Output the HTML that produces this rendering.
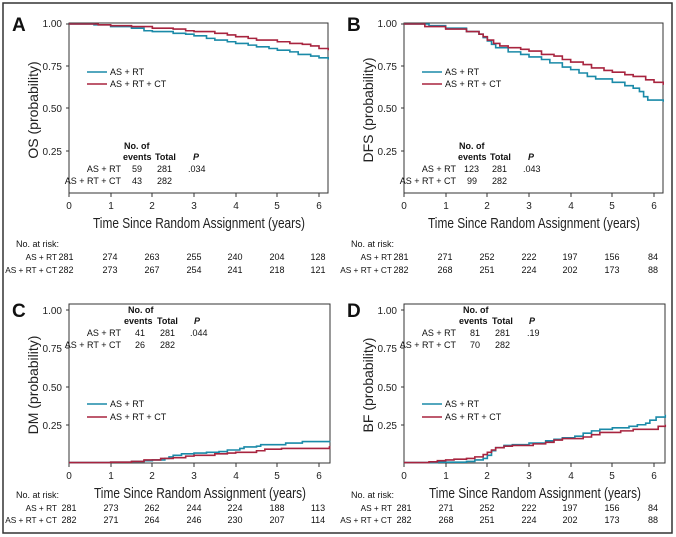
<!DOCTYPE html>
<html><head><meta charset="utf-8"><style>
body{margin:0;background:#fff}
svg{display:block;font-family:"Liberation Sans",sans-serif}
.t{font-size:10px;fill:#222}
.s{font-size:9px;fill:#111}
.r{font-size:8.3px}
.b{font-weight:bold}
.xl{font-size:15px;fill:#222}
.yl{font-size:14px;fill:#222}
.L{font-size:19px;font-weight:bold;fill:#111}
.c1{fill:none;stroke:#1a8aa8;stroke-width:1.6;vector-effect:non-scaling-stroke}
.c2{fill:none;stroke:#a8243f;stroke-width:1.6;vector-effect:non-scaling-stroke}
</style></head><body>
<svg width="676" height="537" viewBox="0 0 676 537">
<rect x="3" y="3" width="669" height="530" fill="none" stroke="#333" stroke-width="1.5"/>

<g>
<text class="L" x="12" y="31">A</text>
<rect x="69" y="23" width="259" height="170" fill="none" stroke="#333" stroke-width="1"/>
<g class="t" text-anchor="end"><text x="62" y="27">1.00</text><text x="62" y="70">0.75</text><text x="62" y="112">0.50</text><text x="62" y="155">0.25</text></g>
<g stroke="#333"><line x1="66" x2="69" y1="24" y2="24"/><line x1="66" x2="69" y1="66" y2="66"/><line x1="66" x2="69" y1="108" y2="108"/><line x1="66" x2="69" y1="151" y2="151"/>
<line x1="69" x2="69" y1="193" y2="197"/><line x1="111" x2="111" y1="193" y2="197"/><line x1="152" x2="152" y1="193" y2="197"/><line x1="194" x2="194" y1="193" y2="197"/><line x1="236" x2="236" y1="193" y2="197"/><line x1="277" x2="277" y1="193" y2="197"/><line x1="319" x2="319" y1="193" y2="197"/></g>
<g class="t" text-anchor="middle"><text x="69" y="209">0</text><text x="111" y="209">1</text><text x="152" y="209">2</text><text x="194" y="209">3</text><text x="236" y="209">4</text><text x="277" y="209">5</text><text x="319" y="209">6</text></g>
<text class="xl" x="93" y="228" textLength="212" lengthAdjust="spacingAndGlyphs">Time Since Random Assignment (years)</text>
<text class="yl" transform="translate(38,110) rotate(-90)" text-anchor="middle">OS (probability)</text>
<g transform="translate(69,193) scale(41.67,-169)">
<path class="c1" d="M0 1H0.6V0.995H1V0.985H1.5V0.975H1.8V0.96H2V0.955H2.5V0.945H2.8V0.94H3V0.93H3.3V0.915H3.5V0.905H3.8V0.895H4V0.885H4.3V0.875H4.5V0.865H4.8V0.855H5V0.845H5.3V0.835H5.5V0.82H5.8V0.81H6V0.80H6.22V0.79"/>
<path class="c2" d="M0 1H0.7V0.995H1V0.99H1.5V0.985H2V0.975H2.5V0.97H2.8V0.96H3V0.955H3.5V0.945H3.8V0.935H4V0.925H4.3V0.915H4.5V0.905H5V0.895H5.3V0.885H5.6V0.88H5.8V0.87H6V0.855H6.22V0.845"/>
</g>
<line x1="87" x2="107" y1="72" y2="72" class="c1"/><line x1="87" x2="107" y1="84" y2="84" class="c2"/>
<text class="s" x="110" y="75">AS + RT</text><text class="s" x="110" y="87">AS + RT + CT</text>
<g class="s"><text class="b" x="124" y="149">No. of</text><text class="b" x="123" y="160">events</text><text class="b" x="155" y="160">Total</text><text class="b" x="193" y="160" font-style="italic">P</text>
<text x="121" y="172" text-anchor="end">AS + RT</text><text x="132" y="172">59</text><text x="157" y="172">281</text><text x="188" y="172">.034</text>
<text x="121" y="184" text-anchor="end">AS + RT + CT</text><text x="132" y="184">43</text><text x="157" y="184">282</text></g>
<g class="s" text-anchor="middle"><text x="16" y="247" text-anchor="start">No. at risk:</text>
<text class="r" x="57" y="260" text-anchor="end">AS + RT</text><text x="66" y="260">281</text><text x="110" y="260">274</text><text x="152" y="260">263</text><text x="194" y="260">255</text><text x="235" y="260">240</text><text x="277" y="260">204</text><text x="318" y="260">128</text>
<text class="r" x="57" y="273" text-anchor="end">AS + RT + CT</text><text x="66" y="273">282</text><text x="110" y="273">273</text><text x="152" y="273">267</text><text x="194" y="273">254</text><text x="235" y="273">241</text><text x="277" y="273">218</text><text x="318" y="273">121</text></g>
</g>

<g transform="translate(335,0)">
<text class="L" x="12" y="31">B</text>
<rect x="69" y="23" width="259" height="170" fill="none" stroke="#333" stroke-width="1"/>
<g class="t" text-anchor="end"><text x="62" y="27">1.00</text><text x="62" y="70">0.75</text><text x="62" y="112">0.50</text><text x="62" y="155">0.25</text></g>
<g stroke="#333"><line x1="66" x2="69" y1="24" y2="24"/><line x1="66" x2="69" y1="66" y2="66"/><line x1="66" x2="69" y1="108" y2="108"/><line x1="66" x2="69" y1="151" y2="151"/>
<line x1="69" x2="69" y1="193" y2="197"/><line x1="111" x2="111" y1="193" y2="197"/><line x1="152" x2="152" y1="193" y2="197"/><line x1="194" x2="194" y1="193" y2="197"/><line x1="236" x2="236" y1="193" y2="197"/><line x1="277" x2="277" y1="193" y2="197"/><line x1="319" x2="319" y1="193" y2="197"/></g>
<g class="t" text-anchor="middle"><text x="69" y="209">0</text><text x="111" y="209">1</text><text x="152" y="209">2</text><text x="194" y="209">3</text><text x="236" y="209">4</text><text x="277" y="209">5</text><text x="319" y="209">6</text></g>
<text class="xl" x="93" y="228" textLength="212" lengthAdjust="spacingAndGlyphs">Time Since Random Assignment (years)</text>
<text class="yl" transform="translate(38,110) rotate(-90)" text-anchor="middle">DFS (probability)</text>
<g transform="translate(69,193) scale(41.67,-169)">
<path class="c1" d="M0 1H0.6V0.99H1V0.975H1.5V0.955H1.8V0.94H1.9V0.92H2V0.9H2.1V0.88H2.2V0.86H2.5V0.835H2.8V0.82H3V0.805H3.3V0.79H3.5V0.77H3.8V0.745H4V0.73H4.2V0.71H4.4V0.69H4.6V0.675H5V0.655H5.3V0.635H5.5V0.62H5.65V0.6H5.75V0.57H5.85V0.55H6.22V0.54"/>
<path class="c2" d="M0 1H0.5V0.985H1V0.97H1.5V0.955H1.8V0.94H1.9V0.925H2V0.905H2.15V0.885H2.3V0.87H2.5V0.86H2.8V0.85H3V0.84H3.3V0.82H3.6V0.81H3.8V0.79H4V0.775H4.3V0.76H4.5V0.74H4.8V0.725H5V0.715H5.3V0.70H5.5V0.69H5.8V0.67H6V0.655H6.22V0.64"/>
</g>
<line x1="87" x2="107" y1="72" y2="72" class="c1"/><line x1="87" x2="107" y1="84" y2="84" class="c2"/>
<text class="s" x="110" y="75">AS + RT</text><text class="s" x="110" y="87">AS + RT + CT</text>
<g class="s"><text class="b" x="124" y="149">No. of</text><text class="b" x="123" y="160">events</text><text class="b" x="155" y="160">Total</text><text class="b" x="193" y="160" font-style="italic">P</text>
<text x="121" y="172" text-anchor="end">AS + RT</text><text x="129" y="172">123</text><text x="157" y="172">281</text><text x="188" y="172">.043</text>
<text x="121" y="184" text-anchor="end">AS + RT + CT</text><text x="132" y="184">99</text><text x="157" y="184">282</text></g>
<g class="s" text-anchor="middle"><text x="16" y="247" text-anchor="start">No. at risk:</text>
<text class="r" x="57" y="260" text-anchor="end">AS + RT</text><text x="66" y="260">281</text><text x="110" y="260">271</text><text x="152" y="260">252</text><text x="194" y="260">222</text><text x="235" y="260">197</text><text x="277" y="260">156</text><text x="318" y="260">84</text>
<text class="r" x="57" y="273" text-anchor="end">AS + RT + CT</text><text x="66" y="273">282</text><text x="110" y="273">268</text><text x="152" y="273">251</text><text x="194" y="273">224</text><text x="235" y="273">202</text><text x="277" y="273">173</text><text x="318" y="273">88</text></g>
</g>

<g>
<text class="L" x="12" y="317">C</text>
<rect x="69" y="304" width="261" height="159" fill="none" stroke="#333" stroke-width="1"/>
<g class="t" text-anchor="end"><text x="62" y="314">1.00</text><text x="62" y="352">0.75</text><text x="62" y="391">0.50</text><text x="62" y="429">0.25</text></g>
<g stroke="#333"><line x1="66" x2="69" y1="310" y2="310"/><line x1="66" x2="69" y1="348" y2="348"/><line x1="66" x2="69" y1="387" y2="387"/><line x1="66" x2="69" y1="425" y2="425"/>
<line x1="69" x2="69" y1="463" y2="467"/><line x1="111" x2="111" y1="463" y2="467"/><line x1="152" x2="152" y1="463" y2="467"/><line x1="194" x2="194" y1="463" y2="467"/><line x1="236" x2="236" y1="463" y2="467"/><line x1="277" x2="277" y1="463" y2="467"/><line x1="319" x2="319" y1="463" y2="467"/></g>
<g class="t" text-anchor="middle"><text x="69" y="479">0</text><text x="111" y="479">1</text><text x="152" y="479">2</text><text x="194" y="479">3</text><text x="236" y="479">4</text><text x="277" y="479">5</text><text x="319" y="479">6</text></g>
<text class="xl" x="94" y="498" textLength="212" lengthAdjust="spacingAndGlyphs">Time Since Random Assignment (years)</text>
<text class="yl" transform="translate(38,385) rotate(-90)" text-anchor="middle">DM (probability)</text>
<g transform="translate(69,463) scale(41.67,-153)">
<path class="c1" d="M0 0.003H1V0.005H1.5V0.01H1.8V0.015H2V0.02H2.3V0.03H2.4V0.04H2.5V0.05H2.7V0.06H3V0.065H3.3V0.07H3.6V0.075H3.8V0.085H4.1V0.095H4.2V0.105H4.5V0.11H4.6V0.12H5.2V0.13H5.6V0.14H6.27"/>
<path class="c2" d="M0 0.003H1V0.005H1.5V0.01H1.8V0.02H2.2V0.03H2.5V0.035H2.8V0.045H3V0.05H3.5V0.06H3.8V0.065H4V0.07H4.5V0.08H4.7V0.09H5.1V0.095H6.25V0.105H6.27"/>
</g>
<line x1="87" x2="107" y1="404" y2="404" class="c1"/><line x1="87" x2="107" y1="417" y2="417" class="c2"/>
<text class="s" x="110" y="407">AS + RT</text><text class="s" x="110" y="420">AS + RT + CT</text>
<g class="s"><text class="b" x="128" y="313">No. of</text><text class="b" x="124" y="324">events</text><text class="b" x="157" y="324">Total</text><text class="b" x="194" y="324" font-style="italic">P</text>
<text x="121" y="336" text-anchor="end">AS + RT</text><text x="135" y="336">41</text><text x="160" y="336">281</text><text x="190" y="336">.044</text>
<text x="121" y="348" text-anchor="end">AS + RT + CT</text><text x="135" y="348">26</text><text x="160" y="348">282</text></g>
<g class="s" text-anchor="middle"><text x="16" y="498" text-anchor="start">No. at risk:</text>
<text class="r" x="57" y="511" text-anchor="end">AS + RT</text><text x="69" y="511">281</text><text x="111" y="511">273</text><text x="152" y="511">262</text><text x="194" y="511">244</text><text x="235" y="511">224</text><text x="277" y="511">188</text><text x="318" y="511">113</text>
<text class="r" x="57" y="523" text-anchor="end">AS + RT + CT</text><text x="69" y="523">282</text><text x="111" y="523">271</text><text x="152" y="523">264</text><text x="194" y="523">246</text><text x="235" y="523">230</text><text x="277" y="523">207</text><text x="318" y="523">114</text></g>
</g>

<g transform="translate(335,0)">
<text class="L" x="12" y="317">D</text>
<rect x="69" y="304" width="261" height="159" fill="none" stroke="#333" stroke-width="1"/>
<g class="t" text-anchor="end"><text x="62" y="314">1.00</text><text x="62" y="352">0.75</text><text x="62" y="391">0.50</text><text x="62" y="429">0.25</text></g>
<g stroke="#333"><line x1="66" x2="69" y1="310" y2="310"/><line x1="66" x2="69" y1="348" y2="348"/><line x1="66" x2="69" y1="387" y2="387"/><line x1="66" x2="69" y1="425" y2="425"/>
<line x1="69" x2="69" y1="463" y2="467"/><line x1="111" x2="111" y1="463" y2="467"/><line x1="152" x2="152" y1="463" y2="467"/><line x1="194" x2="194" y1="463" y2="467"/><line x1="236" x2="236" y1="463" y2="467"/><line x1="277" x2="277" y1="463" y2="467"/><line x1="319" x2="319" y1="463" y2="467"/></g>
<g class="t" text-anchor="middle"><text x="69" y="479">0</text><text x="111" y="479">1</text><text x="152" y="479">2</text><text x="194" y="479">3</text><text x="236" y="479">4</text><text x="277" y="479">5</text><text x="319" y="479">6</text></g>
<text class="xl" x="94" y="498" textLength="212" lengthAdjust="spacingAndGlyphs">Time Since Random Assignment (years)</text>
<text class="yl" transform="translate(38,385) rotate(-90)" text-anchor="middle">BF (probability)</text>
<g transform="translate(69,463) scale(41.67,-153)">
<path class="c1" d="M0 0.003H0.8V0.005H1.5V0.01H1.7V0.02H1.9V0.03H2V0.05H2.1V0.08H2.2V0.1H2.4V0.115H2.6V0.12H3V0.13H3.4V0.145H3.6V0.155H3.8V0.165H4.1V0.175H4.3V0.195H4.5V0.21H4.7V0.22H5V0.23H5.4V0.24H5.6V0.25H5.8V0.26H5.9V0.28H6.05V0.3H6.27V0.315"/>
<path class="c2" d="M0 0.003H0.6V0.008H0.8V0.015H1V0.02H1.2V0.025H1.5V0.03H1.7V0.04H1.9V0.055H2V0.07H2.1V0.085H2.2V0.1H2.4V0.11H2.6V0.115H3.1V0.125H3.4V0.135H3.6V0.15H3.8V0.16H4.3V0.17H4.5V0.185H4.7V0.2H5.2V0.21H5.5V0.22H6.1V0.24H6.27V0.25"/>
</g>
<line x1="87" x2="107" y1="404" y2="404" class="c1"/><line x1="87" x2="107" y1="417" y2="417" class="c2"/>
<text class="s" x="110" y="407">AS + RT</text><text class="s" x="110" y="420">AS + RT + CT</text>
<g class="s"><text class="b" x="128" y="313">No. of</text><text class="b" x="124" y="324">events</text><text class="b" x="157" y="324">Total</text><text class="b" x="194" y="324" font-style="italic">P</text>
<text x="121" y="336" text-anchor="end">AS + RT</text><text x="135" y="336">81</text><text x="160" y="336">281</text><text x="192" y="336">.19</text>
<text x="121" y="348" text-anchor="end">AS + RT + CT</text><text x="135" y="348">70</text><text x="160" y="348">282</text></g>
<g class="s" text-anchor="middle"><text x="16" y="498" text-anchor="start">No. at risk:</text>
<text class="r" x="57" y="511" text-anchor="end">AS + RT</text><text x="69" y="511">281</text><text x="111" y="511">271</text><text x="152" y="511">252</text><text x="194" y="511">222</text><text x="235" y="511">197</text><text x="277" y="511">156</text><text x="318" y="511">84</text>
<text class="r" x="57" y="523" text-anchor="end">AS + RT + CT</text><text x="69" y="523">282</text><text x="111" y="523">268</text><text x="152" y="523">251</text><text x="194" y="523">224</text><text x="235" y="523">202</text><text x="277" y="523">173</text><text x="318" y="523">88</text></g>
</g>
</svg>
</body></html>
